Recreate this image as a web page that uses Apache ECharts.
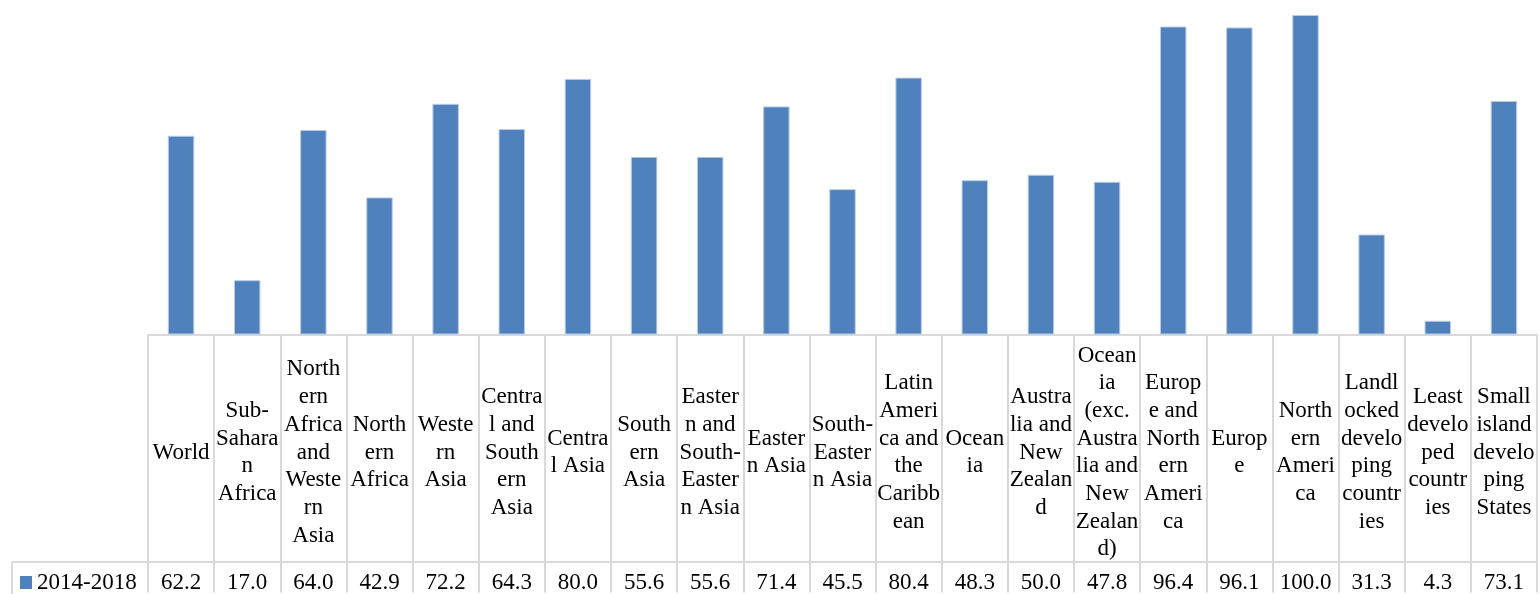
<!DOCTYPE html>
<html>
<head>
<meta charset="utf-8">
<script src="https://cdn.jsdelivr.net/npm/echarts@6/dist/echarts.min.js"></script>
<style>
  html, body { margin: 0; padding: 0; background: #fff; }
  #chart { width: 1540px; height: 594px; }
</style>
</head>
<body>
<div id="chart"></div>
<script>
// category labels, wrapped the way the table cells wrap them
var categories = [
    'World',
    'Sub-\nSahara\nn\nAfrica',
    'North\nern\nAfrica\nand\nWeste\nrn\nAsia',
    'North\nern\nAfrica',
    'Weste\nrn\nAsia',
    'Centra\nl and\nSouth\nern\nAsia',
    'Centra\nl Asia',
    'South\nern\nAsia',
    'Easter\nn and\nSouth-\nEaster\nn Asia',
    'Easter\nn Asia',
    'South-\nEaster\nn Asia',
    'Latin\nAmeri\nca and\nthe\nCaribb\nean',
    'Ocean\nia',
    'Austra\nlia and\nNew\nZealan\nd',
    'Ocean\nia\n(exc.\nAustra\nlia and\nNew\nZealan\nd)',
    'Europ\ne and\nNorth\nern\nAmeri\nca',
    'Europ\ne',
    'North\nern\nAmeri\nca',
    'Landl\nocked\ndevelo\nping\ncountr\nies',
    'Least\ndevelo\nped\ncountr\nies',
    'Small\nisland\ndevelo\nping\nStates'
];
var seriesName = '2014-2018';
var values = [62.2, 17.0, 64.0, 42.9, 72.2, 64.3, 80.0, 55.6, 55.6, 71.4, 45.5, 80.4, 48.3, 50.0, 47.8, 96.4, 96.1, 100.0, 31.3, 4.3, 73.1];

var font = "'Liberation Serif', 'Times New Roman', serif";
var lineColor = '#d9d9d9';

var chart = echarts.init(document.getElementById('chart'));
var option = {
    animation: false,
    color: ['#4F81BD'],
    textStyle: { fontFamily: font },
    grid: { left: 148, right: 3, top: 15, height: 321 },
    legend: {
        data: [seriesName],
        left: 20, top: 571,
        padding: 0,
        icon: 'rect',
        itemWidth: 12, itemHeight: 13,
        itemGap: 0,
        itemStyle: { borderWidth: 0 },
        textStyle: { fontFamily: font, fontSize: 23, color: '#000' }
    },
    xAxis: [
        {
            type: 'category',
            data: categories,
            axisLine: { lineStyle: { color: lineColor, width: 2 } },
            axisTick: { show: true, length: 258, lineStyle: { color: lineColor, width: 2 } },
            axisLabel: {
                interval: 0,
                margin: 118,
                verticalAlign: 'middle',
                align: 'center',
                fontFamily: font,
                fontSize: 23,
                lineHeight: 27.7,
                color: '#000'
            }
        },
        {
            type: 'category',
            data: categories,
            position: 'bottom',
            axisLine: { show: false },
            axisTick: { show: false },
            axisLabel: {
                interval: 0,
                margin: 248,
                verticalAlign: 'middle',
                fontFamily: font,
                fontSize: 23,
                color: '#000',
                formatter: function (v, i) { return values[i].toFixed(1); }
            }
        }
    ],
    yAxis: {
        type: 'value',
        min: 0, max: 100,
        show: false,
        splitLine: { show: false }
    },
    graphic: [
        { type: 'line', shape: { x1: 12, y1: 562, x2: 1537, y2: 562 }, style: { stroke: lineColor, lineWidth: 2 } },
        { type: 'line', shape: { x1: 12, y1: 562, x2: 12, y2: 594 }, style: { stroke: lineColor, lineWidth: 2 } }
    ],
    series: [
        {
            name: seriesName,
            type: 'bar',
            data: values,
            barWidth: '40%',
            itemStyle: { borderColor: '#b9cde5', borderWidth: 1 }
        }
    ]
};
chart.setOption(option);
</script>
</body>
</html>
